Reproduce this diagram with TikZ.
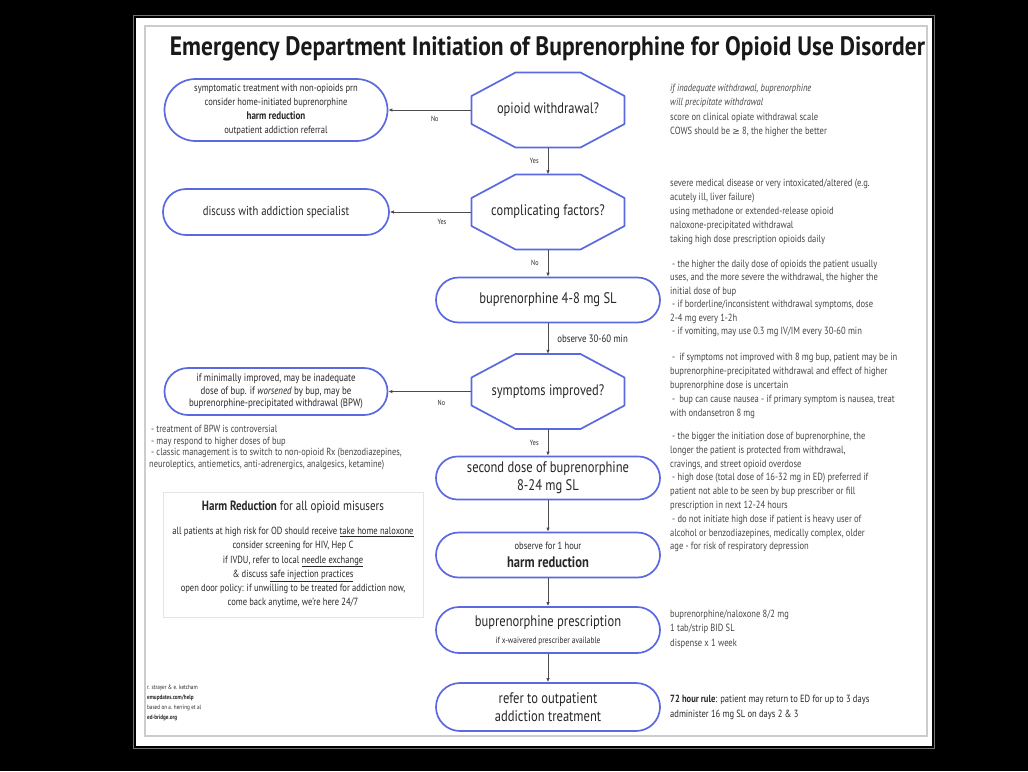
\documentclass[tikz,border=0pt]{standalone}
\usepackage{fontspec}
\usepackage{graphicx}
\setmainfont{PT Sans}[FakeStretch=0.82]
\newfontfamily\symfont{DejaVu Sans}
\usetikzlibrary{shapes.misc,arrows.meta,calc}
\definecolor{nodeblue}{RGB}{90,105,225}
\definecolor{txt}{RGB}{40,40,40}
\definecolor{note}{RGB}{70,70,70}
\begin{document}
\begin{tikzpicture}[x=1pt,y=-1pt,
  stad/.style={rounded rectangle, draw=nodeblue, line width=1.7pt, minimum width=224pt, inner sep=0pt, align=center, text=txt},
  dec/.style={rectangle, minimum width=153pt, minimum height=75pt, inner sep=0pt, align=center, text=txt, font=\fontsize{15.2}{17}\selectfont},
  big/.style={font=\fontsize{15.3}{18}\selectfont},
  small/.style={font=\fontsize{10.4}{14}\selectfont},
  conn/.style={draw=black!70, line width=0.8pt, -{Latex[length=4pt,width=3.5pt]}},
  lab/.style={font=\fontsize{7.5}{8}\selectfont, text=txt, inner sep=0pt},
  notes/.style={anchor=north west, inner sep=0pt, align=left, text=note, font=\fontsize{10.4}{14.2}\selectfont},
  octo/.style={draw=nodeblue, line width=1.7pt, line join=round},
]
% background
\fill[black] (0,0) rectangle (1028,771);
\draw[black!55, line width=1pt] (133.5,15.5) rectangle (934.5,748.5);
\fill[white] (136,18) rectangle (932,746);
\draw[black!20, line width=1.2pt] (145,26) rectangle (927,736);
\useasboundingbox (0,0) rectangle (1028,771);

% title
\node[anchor=base, inner sep=0pt, text=black!90] (title) at (547.5,55)
  {\resizebox{755pt}{19pt}{\bfseries Emergency Department Initiation of Buprenorphine for Opioid Use Disorder}};

% decisions
\node[dec] (d1) at (548,110) {opioid withdrawal?};
\node[dec] (d2) at (548,212) {complicating factors?};
\node[dec] (d3) at (548,391.5) {symptoms improved?};
\foreach \n in {d1,d2,d3}{
  \draw[octo] ($(\n.center)+(-32.5,-37.5)$) -- ($(\n.center)+(32.5,-37.5)$)
    -- ($(\n.center)+(76.5,-14)$) -- ($(\n.center)+(76.5,14)$)
    -- ($(\n.center)+(32.5,37.5)$) -- ($(\n.center)+(-32.5,37.5)$)
    -- ($(\n.center)+(-76.5,14)$) -- ($(\n.center)+(-76.5,-14)$) -- cycle;
}

% left terminators
\node[stad, minimum width=223pt, minimum height=62pt, small] (s1) at (276,110)
  {symptomatic treatment with non-opioids prn\\consider home-initiated buprenorphine\\{\fontsize{11}{14}\selectfont\bfseries harm reduction}\\outpatient addiction referral};
\node[stad, minimum width=226pt, minimum height=46pt, font=\fontsize{13}{16}\selectfont] (s2) at (276,212) {discuss with addiction specialist};
\node[stad, minimum width=223pt, minimum height=47pt, font=\fontsize{10.8}{12.7}\selectfont] (s4) at (276,391.5)
  {if minimally improved, may be inadequate\\dose of bup. if \textit{worsened} by bup, may be\\buprenorphine-precipitated withdrawal (BPW)};

% main column
\node[stad, minimum height=45pt, big] (s3) at (548,300) {buprenorphine 4-8 mg SL};
\node[stad, minimum height=43pt, big] (s5) at (548,478) {second dose of buprenorphine\\8-24 mg SL};
\node[stad, minimum height=45pt, big] (s6) at (548,555) {{\fontsize{10.4}{12}\selectfont observe for 1 hour}\\\textbf{harm reduction}};
\node[stad, minimum height=46pt, font=\fontsize{15.3}{17}\selectfont] (s7) at (548,630) {buprenorphine prescription\\{\fontsize{9}{10}\selectfont if x-waivered prescriber available}};
\node[stad, minimum height=48pt, big] (s8) at (548,707) {refer to outpatient\\addiction treatment};

% connectors
\draw[conn] (d1.south) -- node[lab, left=9pt] {Yes} (d2.north);
\draw[conn] (d2.south) -- node[lab, left=9pt] {No} (s3.north);
\draw[conn] (s3.south) -- node[right=9pt, inner sep=0pt, text=txt, font=\fontsize{10.7}{11}\selectfont] {observe 30-60 min} (d3.north);
\draw[conn] (d3.south) -- node[lab, left=9pt] {Yes} (s5.north);
\draw[conn] (s5.south) -- (s6.north);
\draw[conn] (s6.south) -- (s7.north);
\draw[conn] (s7.south) -- (s8.north);
\draw[conn] (d1.west) -- node[lab, pos=0.44, below=6pt] {No} (s1.east);
\draw[conn] (d2.west) -- node[lab, pos=0.36, below=7pt] {Yes} (s2.east);
\draw[conn] (d3.west) -- node[lab, pos=0.36, below=8pt] {No} (s4.east);

% left notes
\node[notes, font=\fontsize{10.3}{11.7}\selectfont] (bpw) at (149,425)
  {\hspace{2pt}- treatment of BPW is controversial\\
   \hspace{2pt}- may respond to higher doses of bup\\
   \hspace{2pt}- classic management is to switch to non-opioid Rx (benzodiazepines,\\
   neuroleptics, antiemetics, anti-adrenergics, analgesics, ketamine)};

% harm reduction box
\node[draw=black!10, line width=0.8pt, minimum width=260pt, minimum height=125pt, inner sep=0pt] (hrbox) at (293,554.5) {};
\node[anchor=north, inner sep=0pt, text=txt, font=\fontsize{13.4}{15}\selectfont] (hrtitle) at (293,500.5)
  {\textbf{Harm Reduction} for all opioid misusers};
\node[anchor=north, inner sep=0pt, align=center, text=txt, font=\fontsize{10.4}{14.2}\selectfont] (hrtext) at (293,527)
  {all patients at high risk for OD should receive \underline{take home naloxone}\\
   consider screening for HIV, Hep C\\
   if IVDU, refer to local \underline{needle exchange}\\
   \& discuss \underline{safe injection practices}\\
   open door policy: if unwilling to be treated for addiction now,\\
   come back anytime, we're here 24/7};

% credits
\node[notes, text=txt, font=\fontsize{6.3}{10}\selectfont] (credits) at (147,684.5)
  {r. strayer \& e. ketcham\\\textbf{emupdates.com/help}\\based on a. herring et al\\\textbf{ed-bridge.org}};

% right notes
\node[notes] (n1) at (670,84)
  {\textit{if inadequate withdrawal, buprenorphine}\\
   \textit{will precipitate withdrawal}\\
   score on clinical opiate withdrawal scale\\
   COWS should be {\symfont\fontsize{9}{14.2}\selectfont ≥} 8, the higher the better};
\node[notes, font=\fontsize{10.4}{14}\selectfont] (n2) at (670,179)
  {severe medical disease or very intoxicated/altered (e.g.\\
   acutely ill, liver failure)\\
   using methadone or extended-release opioid\\
   naloxone-precipitated withdrawal\\
   taking high dose prescription opioids daily};
\node[notes, font=\fontsize{10.4}{13.4}\selectfont] (n3) at (670,260)
  {\hspace{2pt}- the higher the daily dose of opioids the patient usually\\
   uses, and the more severe the withdrawal, the higher the\\
   initial dose of bup\\
   \hspace{2pt}- if borderline/inconsistent withdrawal symptoms, dose\\
   2-4 mg every 1-2h\\
   \hspace{2pt}- if vomiting, may use 0.3 mg IV/IM every 30-60 min};
\node[notes, font=\fontsize{10.4}{14}\selectfont] (n4) at (670,353)
  {\hspace{2pt}-\hspace{4pt}if symptoms not improved with 8 mg bup, patient may be in\\
   buprenorphine-precipitated withdrawal and effect of higher\\
   buprenorphine dose is uncertain\\
   \hspace{2pt}-\hspace{4pt}bup can cause nausea - if primary symptom is nausea, treat\\
   with ondansetron 8 mg};
\node[notes, font=\fontsize{10.4}{13.8}\selectfont] (n5) at (670,432)
  {\hspace{2pt}- the bigger the initiation dose of buprenorphine, the\\
   longer the patient is protected from withdrawal,\\
   cravings, and street opioid overdose\\
   \hspace{2pt}- high dose (total dose of 16-32 mg in ED) preferred if\\
   patient not able to be seen by bup prescriber or fill\\
   prescription in next 12-24 hours\\
   \hspace{2pt}- do not initiate high dose if patient is heavy user of\\
   alcohol or benzodiazepines, medically complex, older\\
   age - for risk of respiratory depression};
\node[notes] (n6) at (670,610)
  {buprenorphine/naloxone 8/2 mg\\1 tab/strip BID SL\\dispense x 1 week};
\node[notes, text=txt, font=\fontsize{10.4}{14.5}\selectfont] (n7) at (670,695)
  {\textbf{72 hour rule}: patient may return to ED for up to 3 days\\
   administer 16 mg SL on days 2 \& 3};
\end{tikzpicture}
\end{document}
